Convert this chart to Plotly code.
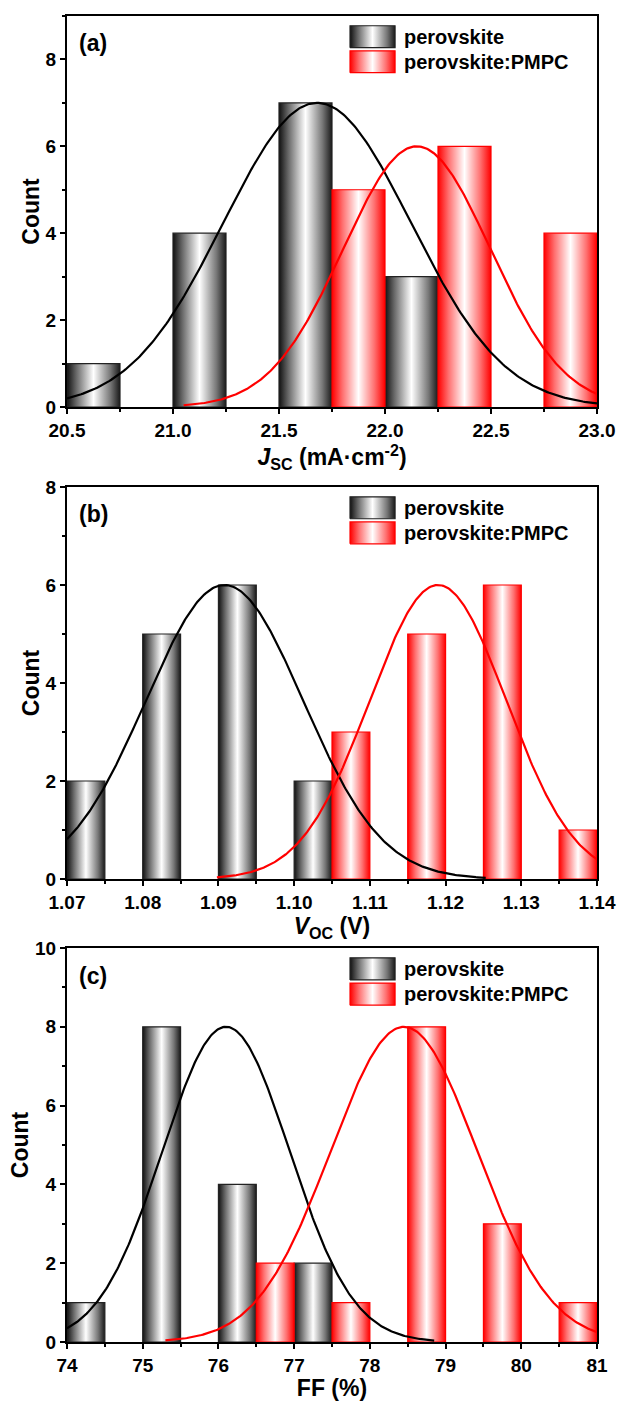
import numpy as np
import plotly.graph_objects as go

# ---- (a) short-circuit current density histogram ----
jsc_left_ref = [20.5, 21.0, 21.5, 22.0]
jsc_count_ref = [1, 4, 7, 3]
jsc_left_pmpc = [21.75, 22.25, 22.75]
jsc_count_pmpc = [5, 6, 4]
jsc_bin = 0.25
# normal-curve fits: centre, sigma, peak, x from, x to
jsc_fit_ref = (21.68, 0.442, 7.0, 20.5, 23.0)
jsc_fit_pmpc = (22.15, 0.347, 6.0, 21.05, 23.0)

# ---- (b) open-circuit voltage histogram ----
voc_left_ref = [1.070, 1.080, 1.090, 1.100]
voc_count_ref = [2, 5, 6, 2]
voc_left_pmpc = [1.105, 1.115, 1.125, 1.135]
voc_count_pmpc = [3, 5, 6, 1]
voc_bin = 0.005
voc_fit_ref = (1.0908, 0.0104, 6.0, 1.070, 1.1253)
voc_fit_pmpc = (1.1190, 0.00903, 6.0, 1.0898, 1.140)

# ---- (c) fill factor histogram ----
ff_left_ref = [74.0, 75.0, 76.0, 77.0]
ff_count_ref = [1, 8, 4, 2]
ff_left_pmpc = [76.5, 77.5, 78.5, 79.5, 80.5]
ff_count_pmpc = [2, 1, 8, 3, 1]
ff_bin = 0.5
ff_fit_ref = (76.1, 0.839, 8.0, 74.0, 78.85)
ff_fit_pmpc = (78.45, 0.968, 8.0, 75.3, 81.0)

series_names = ["perovskite", "perovskite:PMPC"]
panel_tags = ["(a)", "(b)", "(c)"]
x_titles = ["<i>J</i><sub>SC</sub> (mA·cm<sup>-2</sup>)",
            "<i>V</i><sub>OC</sub> (V)",
            "FF (%)"]

FONT = "Liberation Sans, Arial, sans-serif"
GRAD_BLACK = [[0.0, "#111111"], [0.18, "#6a6a6a"], [0.5, "#ffffff"],
              [0.82, "#777777"], [1.0, "#1a1a1a"]]
GRAD_RED = [[0.0, "#ff0000"], [0.2, "#ff7070"], [0.5, "#ffffff"],
            [0.8, "#ff7070"], [1.0, "#ff0000"]]
EDGE = ["#222222", "#ff0000"]
GRADS = [GRAD_BLACK, GRAD_RED]
CURVE = ["#000000", "#ff0000"]

panels = [
    dict(left=[jsc_left_ref, jsc_left_pmpc], count=[jsc_count_ref, jsc_count_pmpc],
         width=jsc_bin, fits=[jsc_fit_ref, jsc_fit_pmpc],
         xrange=[20.5, 23.0], xdtick=0.5, xminor=0.25, xfmt=".1f",
         yrange=[0, 9], ydom=[0.70950, 0.98858]),
    dict(left=[voc_left_ref, voc_left_pmpc], count=[voc_count_ref, voc_count_pmpc],
         width=voc_bin, fits=[voc_fit_ref, voc_fit_pmpc],
         xrange=[1.07, 1.14], xdtick=0.01, xminor=0.005, xfmt=".2f",
         yrange=[0, 8], ydom=[0.37259, 0.65239]),
    dict(left=[ff_left_ref, ff_left_pmpc], count=[ff_count_ref, ff_count_pmpc],
         width=ff_bin, fits=[ff_fit_ref, ff_fit_pmpc],
         xrange=[74, 81], xdtick=1, xminor=0.5, xfmt="d",
         yrange=[0, 10], ydom=[0.04211, 0.32334]),
]

XDOM = [67 / 619, 597 / 619]

fig = go.Figure()
annotations = []


def gauss(fit):
    xc, s, amp, xa, xb = fit
    xs = np.linspace(xa, xb, 300)
    return xs, amp * np.exp(-((xs - xc) ** 2) / (2 * s ** 2))


for i, p in enumerate(panels):
    sfx = "" if i == 0 else str(i + 1)
    xa, ya = "x" + sfx, "y" + sfx
    x0, x1 = p["xrange"]
    y0, y1 = p["yrange"]

    def to_data(fx, fy):
        return x0 + fx * (x1 - x0), y0 + fy * (y1 - y0)

    # histogram bars with cylindrical shading
    for k in range(2):
        for left, c in zip(p["left"][k], p["count"][k]):
            right = left + p["width"]
            fig.add_trace(go.Scatter(
                x=[left, left, right, right, left], y=[0, c, c, 0, 0],
                xaxis=xa, yaxis=ya, mode="lines", fill="toself",
                fillgradient=dict(type="horizontal", colorscale=GRADS[k]),
                line=dict(color=EDGE[k], width=1.2),
                showlegend=False, hoverinfo="skip"))

    # fitted normal curves
    for k in range(2):
        xs, ys = gauss(p["fits"][k])
        fig.add_trace(go.Scatter(x=xs, y=ys, xaxis=xa, yaxis=ya, mode="lines",
                                 line=dict(color=CURVE[k], width=2.2),
                                 showlegend=False, hoverinfo="skip"))

    # legend swatches and labels
    sw = [(0.975, 0.919), (0.911, 0.855)]
    for k in range(2):
        fa, fb = sw[k]
        lx, ly_top = to_data(0.534, fa)
        rx, ly_bot = to_data(0.619, fb)
        fig.add_trace(go.Scatter(
            x=[lx, lx, rx, rx, lx], y=[ly_bot, ly_top, ly_top, ly_bot, ly_bot],
            xaxis=xa, yaxis=ya, mode="lines", fill="toself",
            fillgradient=dict(type="horizontal", colorscale=GRADS[k]),
            line=dict(color=EDGE[k], width=1.2),
            showlegend=False, hoverinfo="skip"))
        annotations.append(dict(
            xref=xa + " domain", yref=ya + " domain", x=0.632, y=(fa + fb) / 2,
            xanchor="left", yanchor="middle", text=series_names[k], showarrow=False,
            font=dict(family=FONT, size=20, color="#000000", weight="bold")))

    annotations.append(dict(
        xref=xa + " domain", yref=ya + " domain", x=0.018, y=0.93,
        xanchor="left", yanchor="middle", text=panel_tags[i], showarrow=False,
        font=dict(family=FONT, size=23, color="#000000", weight="bold")))

    axis_common = dict(showline=True, linecolor="#000000", linewidth=2, mirror=True,
                       ticks="outside", ticklen=5, tickwidth=2, tickcolor="#000000",
                       showgrid=False, zeroline=False, automargin=False,
                       tickfont=dict(family=FONT, size=19, color="#000000", weight="bold"))
    fig.layout["xaxis" + sfx] = dict(
        axis_common, domain=XDOM, anchor=ya, range=p["xrange"],
        tick0=x0, dtick=p["xdtick"], tickformat=p["xfmt"],
        minor=dict(dtick=p["xminor"], ticks="outside", ticklen=3, tickwidth=2,
                   tickcolor="#000000"),
        title=dict(text=x_titles[i], standoff=3,
                   font=dict(family=FONT, size=23, color="#000000", weight="bold")))
    fig.layout["yaxis" + sfx] = dict(
        axis_common, domain=p["ydom"], anchor=xa, range=p["yrange"],
        tick0=0, dtick=2,
        minor=dict(dtick=1, ticks="outside", ticklen=3, tickwidth=2,
                   tickcolor="#000000"),
        title=dict(text="Count", standoff=0,
                   font=dict(family=FONT, size=23, color="#000000", weight="bold")))

fig.update_layout(width=619, height=1401, margin=dict(l=0, r=0, t=0, b=0),
                  paper_bgcolor="#ffffff", plot_bgcolor="rgba(0,0,0,0)",
                  showlegend=False, annotations=annotations)

fig.write_html("out.html")
